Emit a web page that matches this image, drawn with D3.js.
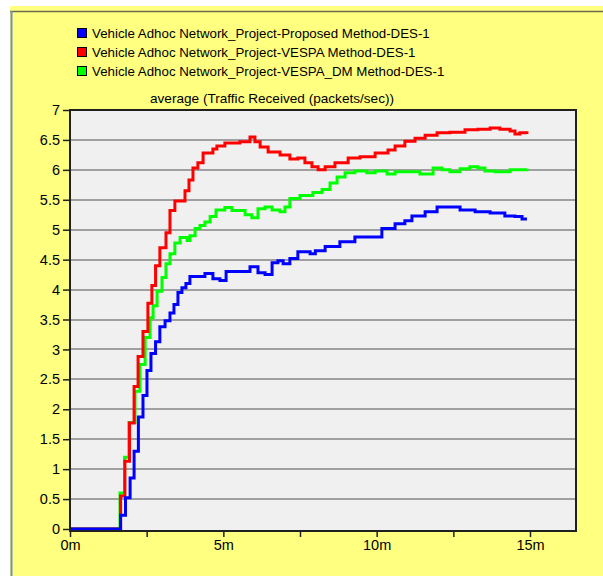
<!DOCTYPE html>
<html>
<head>
<meta charset="utf-8">
<script src="https://cdn.jsdelivr.net/npm/d3@7"></script>
<style>
  body { margin: 0; background: #fff; }
  svg { display: block; font-family: "Liberation Sans", Arial, sans-serif; }
</style>
</head>
<body>
<svg></svg>
<script>
const width = 603;
const height = 576;

// series names (legend order)
const seriesNames = [
    "Vehicle Adhoc Network_Project-Proposed Method-DES-1",
    "Vehicle Adhoc Network_Project-VESPA Method-DES-1",
    "Vehicle Adhoc Network_Project-VESPA_DM Method-DES-1"
];
const seriesColors = ["#0000ff", "#ff0000", "#00ff00"];

// time in minutes, values in packets/sec
const proposedTime = [0, 1.65, 1.81, 1.96, 2.09, 2.23, 2.38, 2.51, 2.64, 2.79, 2.93, 3.10, 3.26, 3.39, 3.52, 3.65, 3.78, 3.91, 4.40, 4.66, 4.89, 5.09, 5.87, 6.13, 6.36, 6.59, 6.78, 6.95, 7.17, 7.43, 7.83, 8.00, 8.32, 8.80, 9.29, 10.17, 10.60, 10.92, 11.15, 11.58, 11.97, 12.72, 13.21, 13.70, 14.18, 14.51, 14.74, 14.90];
const proposedValue = [0, 0.23, 0.52, 0.85, 1.3, 1.87, 2.23, 2.65, 2.93, 3.13, 3.38, 3.48, 3.61, 3.75, 3.95, 4.03, 4.1, 4.22, 4.27, 4.18, 4.15, 4.3, 4.38, 4.28, 4.25, 4.45, 4.48, 4.43, 4.52, 4.63, 4.6, 4.65, 4.72, 4.8, 4.88, 5.02, 5.1, 5.15, 5.23, 5.3, 5.38, 5.33, 5.3, 5.28, 5.23, 5.22, 5.18, 5.18];

const vespaTime = [0, 1.65, 1.79, 1.94, 2.09, 2.22, 2.38, 2.54, 2.67, 2.79, 2.93, 3.13, 3.26, 3.42, 3.75, 3.88, 4.01, 4.17, 4.34, 4.66, 4.79, 5.05, 5.54, 5.87, 6.03, 6.20, 6.46, 6.85, 7.17, 7.43, 7.66, 7.89, 8.09, 8.32, 8.64, 9.07, 9.46, 9.95, 10.37, 10.60, 10.92, 11.25, 11.58, 11.97, 12.39, 12.88, 13.30, 13.70, 14.02, 14.35, 14.51, 14.67, 14.90];
const vespaValue = [0, 0.55, 1.13, 1.77, 2.38, 2.88, 3.3, 3.77, 4.07, 4.4, 4.7, 4.95, 5.32, 5.48, 5.65, 5.83, 6.03, 6.12, 6.28, 6.35, 6.4, 6.45, 6.47, 6.55, 6.47, 6.38, 6.3, 6.25, 6.18, 6.2, 6.12, 6.05, 6.0, 6.05, 6.12, 6.2, 6.22, 6.28, 6.33, 6.4, 6.48, 6.53, 6.58, 6.62, 6.63, 6.67, 6.68, 6.7, 6.68, 6.65, 6.6, 6.62, 6.6];

const vespaDmTime = [0, 1.63, 1.78, 1.92, 2.12, 2.28, 2.45, 2.61, 2.71, 2.84, 3.00, 3.13, 3.26, 3.42, 3.59, 3.82, 3.91, 4.08, 4.24, 4.40, 4.57, 4.76, 5.05, 5.28, 5.71, 5.93, 6.13, 6.36, 6.59, 6.85, 7.01, 7.17, 7.50, 7.92, 8.22, 8.48, 8.71, 8.97, 9.29, 9.68, 9.95, 10.34, 10.60, 11.41, 11.84, 12.13, 12.39, 12.72, 13.04, 13.30, 13.53, 13.86, 14.35, 14.90];
const vespaDmValue = [0, 0.6, 1.2, 1.78, 2.3, 2.75, 3.2, 3.53, 3.73, 3.97, 4.2, 4.43, 4.6, 4.78, 4.87, 4.82, 4.9, 5.02, 5.07, 5.13, 5.22, 5.33, 5.37, 5.32, 5.25, 5.2, 5.35, 5.38, 5.33, 5.3, 5.38, 5.52, 5.57, 5.62, 5.67, 5.78, 5.88, 5.95, 5.98, 5.95, 5.98, 5.93, 5.97, 5.93, 6.03, 6.0, 5.97, 6.02, 6.05, 6.03, 5.98, 5.97, 6.0, 6.02];

const yTicks = [0, 0.5, 1, 1.5, 2, 2.5, 3, 3.5, 4, 4.5, 5, 5.5, 6, 6.5, 7];
const xTicks = [0, 2.5, 5, 7.5, 10, 12.5, 15];
const chartTitle = "average (Traffic Received (packets/sec))";

const plotLeft = 70, plotRight = 576, plotTop = 110, plotBottom = 530;

let svg = d3.select("svg")
    .attr("width", width)
    .attr("height", height);

// yellow panel
svg.append("rect")
    .attr("x", 10).attr("y", 6)
    .attr("width", width - 10).attr("height", height - 6)
    .attr("fill", "#ffff80");
svg.append("line")
    .attr("x1", 10).attr("x2", width).attr("y1", 11.5).attr("y2", 11.5)
    .attr("stroke", "#6b6b50").attr("stroke-width", 1.5);
svg.append("line")
    .attr("x1", 11.5).attr("x2", 11.5).attr("y1", 11).attr("y2", height)
    .attr("stroke", "#6f8fc0").attr("stroke-width", 2);

let scaleX = d3.scaleLinear().domain([0, 16.5]).range([plotLeft, plotRight]);
let scaleY = d3.scaleLinear().domain([0, 7]).range([plotBottom - 1, plotTop]);

// plot background
svg.append("rect")
    .attr("x", plotLeft).attr("y", plotTop)
    .attr("width", plotRight - plotLeft).attr("height", plotBottom - plotTop)
    .attr("fill", "#f0f0f0");

// horizontal grid
svg.append("g")
    .selectAll("line")
    .data(yTicks.filter(d => d > 0 && d < 7))
    .enter()
    .append("line")
    .attr("x1", plotLeft).attr("x2", plotRight)
    .attr("y1", d => Math.round(scaleY(d)))
    .attr("y2", d => Math.round(scaleY(d)))
    .attr("stroke", "#a0a0a0")
    .attr("stroke-width", 2);

// series lines, drawn last-to-first so blue ends up on top
const allSeries = [
    {name: seriesNames[0], color: seriesColors[0], data: proposedTime.map((t, i) => ({t: t, v: proposedValue[i]}))},
    {name: seriesNames[1], color: seriesColors[1], data: vespaTime.map((t, i) => ({t: t, v: vespaValue[i]}))},
    {name: seriesNames[2], color: seriesColors[2], data: vespaDmTime.map((t, i) => ({t: t, v: vespaDmValue[i]}))}
];

let lineXY = d3.line()
    .x(d => scaleX(d.t))
    .y(d => scaleY(d.v))
    .curve(d3.curveStepAfter);

svg.append("g")
    .selectAll("path")
    .data(allSeries.slice().reverse())
    .enter()
    .append("path")
    .attr("d", d => lineXY(d.data))
    .attr("fill", "none")
    .attr("stroke", d => d.color)
    .attr("stroke-width", 3)
    .attr("stroke-linejoin", "miter");

// frame
svg.append("rect")
    .attr("x", plotLeft).attr("y", plotTop)
    .attr("width", plotRight - plotLeft).attr("height", plotBottom - plotTop + 1)
    .attr("fill", "none")
    .attr("stroke", "#202020")
    .attr("stroke-width", 2);

// axes
let axisY = d3.axisLeft(scaleY)
    .tickValues(yTicks)
    .tickSize(7)
    .tickPadding(3)
    .tickFormat(d => d);
let gy = svg.append("g")
    .attr("transform", `translate(${plotLeft}, 0)`)
    .call(axisY);

let axisX = d3.axisBottom(scaleX)
    .tickValues(xTicks)
    .tickSize(6)
    .tickPadding(3)
    .tickFormat(d => d % 5 === 0 ? d + "m" : "");
let gx = svg.append("g")
    .attr("transform", `translate(0, ${plotBottom + 1})`)
    .call(axisX);

[gx, gy].forEach(g => {
    g.select(".domain").remove();
    g.selectAll(".tick line").attr("stroke", "#202020").attr("stroke-width", 1.5);
    g.selectAll(".tick text")
        .attr("fill", "#000")
        .style("font-size", "14.5px")
        .style("font-family", "'Liberation Sans', Arial, sans-serif");
});

// title
svg.append("text")
    .attr("x", 272)
    .attr("y", 103)
    .attr("text-anchor", "middle")
    .style("font-size", "13.6px")
    .text(chartTitle);

// legend
let legend = svg.append("g")
    .selectAll("g")
    .data(allSeries)
    .enter()
    .append("g")
    .attr("transform", (d, i) => `translate(77, ${28 + i * 19})`);

legend.append("rect")
    .attr("x", 0.5).attr("y", 0.5)
    .attr("width", 9).attr("height", 9)
    .attr("fill", d => d.color)
    .attr("stroke", "#000")
    .attr("stroke-width", 1);

legend.append("text")
    .attr("x", 15)
    .attr("y", 10)
    .style("font-size", "13.3px")
    .text(d => d.name);
</script>
</body>
</html>
